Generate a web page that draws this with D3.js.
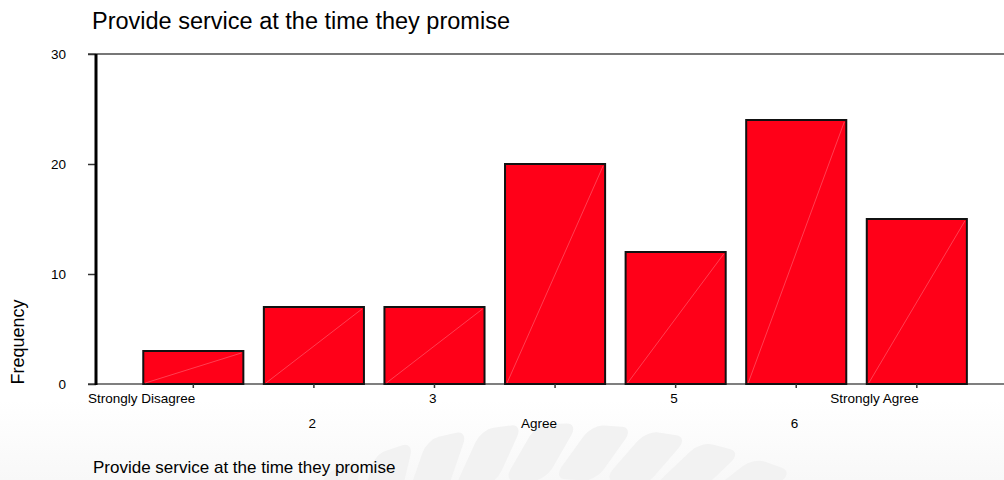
<!DOCTYPE html>
<html>
<head>
<meta charset="utf-8">
<script src="https://cdn.jsdelivr.net/npm/d3@7"></script>
<style>
  body { margin: 0; background: #fff; }
  svg { display: block; font-family: "Liberation Sans", Arial, sans-serif; }
</style>
</head>
<body>
<div id="chart"></div>
<script>
const categories = ["Strongly Disagree", "2", "3", "Agree", "5", "6", "Strongly Agree"];
const frequencies = [3, 7, 7, 20, 12, 24, 15];
const yTicks = [0, 10, 20, 30];
const titleText = "Provide service at the time they promise";

const width = 1004;
const height = 480;

const svg = d3.select("#chart")
    .append("svg")
    .attr("width", width)
    .attr("height", height);

// faint page background + watermark at the bottom
const bg = svg.append("defs").append("linearGradient")
    .attr("id", "bgfade").attr("x1", 0).attr("x2", 0).attr("y1", 0).attr("y2", 1);
bg.append("stop").attr("offset", "0").attr("stop-color", "#ffffff");
bg.append("stop").attr("offset", "1").attr("stop-color", "#f8f8f8");
svg.append("rect")
    .attr("x", 0).attr("y", 400).attr("width", width).attr("height", 80)
    .attr("fill", "url(#bgfade)");

const wm = svg.append("g").attr("fill", "#f2f2f2");
const petals = [-24, -18.5, -13, -7.5, -2, 3.5, 9, 14.5, 20];
petals.forEach(a => {
    wm.append("rect")
        .attr("x", -21).attr("y", -28).attr("width", 42).attr("height", 56)
        .attr("rx", 12)
        .attr("transform", `translate(560,1000) rotate(${a}) translate(0,-548) skewX(-32)`);
});

const x = d3.scaleBand()
    .domain(categories)
    .range([96, 1004])
    .paddingInner(0.17)
    .paddingOuter(0.35)
    .align(0.56);

const y = d3.scaleLinear()
    .domain([0, 30])
    .range([384, 54]);

// title
svg.append("text")
    .attr("x", 92)
    .attr("y", 29)
    .attr("font-size", 23.5)
    .attr("fill", "#000")
    .text(titleText);

// top frame line and baseline
svg.append("line")
    .attr("x1", 88).attr("x2", width)
    .attr("y1", y(30)).attr("y2", y(30))
    .attr("stroke", "#777").attr("stroke-width", 2);

svg.append("line")
    .attr("x1", 88).attr("x2", width)
    .attr("y1", y(0)).attr("y2", y(0))
    .attr("stroke", "#555").attr("stroke-width", 1.5);

// bars
const bars = svg.append("g");
bars.selectAll("rect")
    .data(frequencies)
    .enter().append("rect")
    .attr("x", (d, i) => x(categories[i]))
    .attr("y", d => y(d))
    .attr("width", x.bandwidth())
    .attr("height", d => y(0) - y(d))
    .attr("fill", "#ff0018")
    .attr("stroke", "#111")
    .attr("stroke-width", 2);

bars.selectAll("line.diag")
    .data(frequencies)
    .enter().append("line")
    .attr("class", "diag")
    .attr("x1", (d, i) => x(categories[i]) + 2)
    .attr("y1", y(0) - 1)
    .attr("x2", (d, i) => x(categories[i]) + x.bandwidth() - 2)
    .attr("y2", d => y(d) + 2)
    .attr("stroke", "#ff7080")
    .attr("stroke-width", 0.8)
    .attr("opacity", 0.7);

// y axis
const yAxis = svg.append("g")
    .attr("transform", "translate(96,0)")
    .call(d3.axisLeft(y).tickValues(yTicks).tickSize(8).tickPadding(22));
yAxis.select(".domain").remove();
yAxis.selectAll(".tick line").attr("stroke", "#333").attr("stroke-width", 1.5);
yAxis.selectAll(".tick text")
    .attr("font-size", 13.5)
    .attr("fill", "#000")
    .attr("font-family", "Liberation Sans, Arial, sans-serif");

svg.append("line")
    .attr("x1", 96).attr("x2", 96)
    .attr("y1", y(30)).attr("y2", y(0) + 1)
    .attr("stroke", "#000").attr("stroke-width", 3);

// x axis (ticks + staggered right-aligned labels)
const xAxis = svg.append("g")
    .attr("transform", `translate(0,${y(0)})`)
    .call(d3.axisBottom(x).tickSize(4).tickSizeOuter(0));
xAxis.select(".domain").remove();
xAxis.selectAll(".tick line").attr("stroke", "#333").attr("stroke-width", 1.5);
xAxis.selectAll(".tick text")
    .attr("font-size", 13.5)
    .attr("fill", "#000")
    .attr("font-family", "Liberation Sans, Arial, sans-serif")
    .attr("text-anchor", "end")
    .attr("x", 2)
    .attr("dy", null)
    .attr("y", (d, i) => i % 2 === 0 ? 19 : 44);

// y axis title
svg.append("text")
    .attr("transform", "translate(24,342) rotate(-90)")
    .attr("text-anchor", "middle")
    .attr("font-size", 18)
    .attr("fill", "#000")
    .text("Frequency");

// bottom caption
svg.append("text")
    .attr("x", 93)
    .attr("y", 473)
    .attr("font-size", 17)
    .attr("fill", "#000")
    .text(titleText);
</script>
</body>
</html>
